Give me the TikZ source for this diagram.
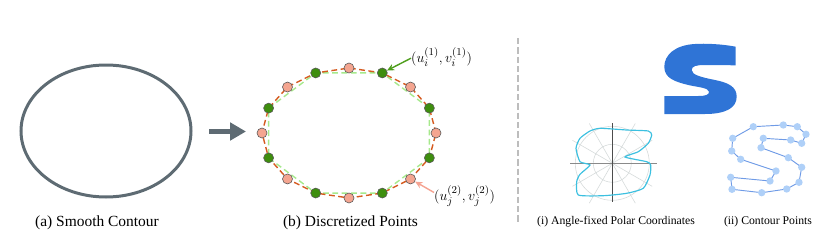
\documentclass[tikz,border=0pt]{standalone}
\usepackage{amsmath}
\usepackage{fontspec}
\setmainfont{Liberation Serif}
\usepackage{xcolor}
\usetikzlibrary{arrows.meta, positioning, calc}

\definecolor{contourgray}{HTML}{5E6B73}
\definecolor{pinkdot}{HTML}{F4A590}
\definecolor{greendot}{HTML}{3E8E0E}
\definecolor{orangedash}{HTML}{D55A1F}
\definecolor{lightgreen}{HTML}{A6E98C}
\definecolor{greenarrow}{HTML}{4E9E1C}
\definecolor{pinkarrow}{HTML}{F5A392}
\definecolor{sepgray}{HTML}{BDBDBD}
\definecolor{sblue}{HTML}{2F74D6}
\definecolor{polarcyan}{HTML}{3CC0E0}
\definecolor{gridgray}{HTML}{D5DADA}
\definecolor{axisgray}{HTML}{8A8A8A}
\definecolor{ptfill}{HTML}{AFD0F8}
\definecolor{ptline}{HTML}{6F9BE6}

\begin{document}
\begin{tikzpicture}[
    x=0.03cm, y=-0.03cm,
    captext/.style={font=\fontsize{13.2}{15}\selectfont, anchor=base},
    subcap/.style={font=\fontsize{10}{12}\selectfont, anchor=base},
    mathlab/.style={font=\fontsize{12.5}{14}\selectfont, anchor=west, inner sep=0pt},
    pdot/.style={circle, draw=black!65, line width=0.5pt, fill=pinkdot, minimum size=0.3cm, inner sep=0pt},
    gdot/.style={circle, draw=black!65, line width=0.5pt, fill=greendot, minimum size=0.3cm, inner sep=0pt},
    cpt/.style={circle, fill=ptfill, minimum size=0.22cm, inner sep=0pt},
    annot/.style={line width=1.2pt, -{Stealth[length=2.2mm, width=2mm]}},
    >=Stealth
]
\useasboundingbox (0,0) rectangle (830,252);

% (a) Smooth contour
\draw[contourgray, line width=0.09cm] (106,131) ellipse [x radius=85, y radius=66];
\coordinate (arrS) at (209,131.5);
\coordinate (arrE) at (246,131.5);
\draw[contourgray, line width=0.17cm, -{Triangle[length=0.48cm, width=0.52cm]}] (arrS) -- (arrE);
\node[captext] (capA) at (97,226) {(a) Smooth Contour};

% (b) Discretized points
\foreach \i in {0,...,7} {
  \coordinate (pk\i) at ({349+87*cos(45*\i)}, {133-65*sin(45*\i)});
  \coordinate (gr\i) at ({349+87*cos(45*\i+22.5)}, {133-65*sin(45*\i+22.5)});
}
\draw[lightgreen, line width=1.2pt, dash pattern=on 5pt off 3pt]
  (gr0) -- (gr1) -- (gr2) -- (gr3) -- (gr4) -- (gr5) -- (gr6) -- (gr7) -- cycle;
\draw[orangedash, line width=1.2pt, dash pattern=on 5pt off 3pt]
  (pk0) -- (gr0) -- (pk1) -- (gr1) -- (pk2) -- (gr2) -- (pk3) -- (gr3) --
  (pk4) -- (gr4) -- (pk5) -- (gr5) -- (pk6) -- (gr6) -- (pk7) -- (gr7) -- cycle;
\foreach \i in {0,...,7} {
  \node[pdot] (pd\i) at (pk\i) {};
  \node[gdot] (gd\i) at (gr\i) {};
}
\node[mathlab] (lab1) at (411,57) {$(u_i^{(1)},v_i^{(1)})$};
\node[mathlab] (lab2) at (434,196) {$(u_j^{(2)},v_j^{(2)})$};
\draw[annot, greenarrow] ([yshift=-1pt]lab1.west) -- (gd1);
\draw[annot, pinkarrow] ([yshift=3pt]lab2.west) -- (pd7);
\node[captext] (capB) at (350.5,226) {(b) Discretized Points};

% Separator
\coordinate (sepT) at (518,38);
\coordinate (sepB) at (518,223);
\draw[sepgray, line width=0.06cm, dash pattern=on 0.19cm off 0.09cm] (sepT) -- (sepB);

% Blue S
\fill[sblue] (735.7,46.7)
  .. controls (721.7,44) and (705,43.3) .. (695,44)
  .. controls (675,45) and (664.3,55) .. (664.3,66.7)
  .. controls (664.3,78.3) and (675,81.7) .. (688.3,85)
  .. controls (698.3,87.3) and (708.3,87.7) .. (709,91.7)
  .. controls (709.3,95) and (705,96) .. (698.3,96)
  -- (664.3,96) -- (664.3,114) -- (705,114)
  .. controls (725,114) and (736.7,108.3) .. (736.7,96.7)
  .. controls (736.7,86.7) and (728.3,82.7) .. (715,80)
  .. controls (701.7,77.3) and (691.7,75) .. (691.7,70)
  .. controls (691.7,66) and (696.7,65) .. (705,65)
  -- (735.7,65.3) -- cycle;

% (i) Angle-fixed polar coordinates
\coordinate (pc) at (612.3,163.3);
\foreach \a in {30,60,120,150,210,240,300,330}
  \draw[gridgray, line width=0.5pt] (pc) -- ++(\a:46);
\draw[gridgray, line width=0.5pt] (pc) circle [radius=19];
\draw[gridgray, line width=0.5pt] (pc) circle [radius=37];
\draw[axisgray, line width=1pt] ($(pc)+(-42,0)$) -- ($(pc)+(45,0)$);
\draw[black!70, line width=0.6pt] ($(pc)+(0,-40)$) -- ($(pc)+(0,39)$);
\draw[polarcyan, line width=1pt] plot[smooth cycle, tension=0.35] coordinates {
  (580,138.3) (590,131) (600,128.3) (626.7,130) (648.3,131) (651.7,135)
  (648.3,143.3) (638.3,151.7) (625,157) (646.7,161.7) (650.7,165)
  (650,175) (643.3,188.3) (626.7,193.3) (603.3,195.7) (578.3,195) (576.7,181.7)
  (580,174.3) (590,165) (580,161.7) (576,148.3)};
\node[subcap] (capI) at (616,224.5) {(i) Angle-fixed Polar Coordinates};

% (ii) Contour points
\foreach \n/\x/\y in {1/806/134.3, 2/797.3/126.7, 3/783.3/125, 4/753.3/126.7,
    5/732.7/138.3, 6/731.7/151, 7/740.7/159.3, 8/776/171, 9/770/181,
    10/730.7/177.3, 11/732/189.3, 12/761.7/192.7, 13/786.7/189, 14/799/182.3,
    15/801.7/167.3, 16/788.3/157.7, 17/761/147.7, 18/763.3/138.3,
    19/790.7/140, 20/801.7/143.3}
  \coordinate (q\n) at (\x,\y);
\draw[ptline, line width=0.8pt] (q1) \foreach \n in {2,...,20} { -- (q\n) } -- cycle;
\foreach \n in {1,...,20}
  \node[cpt] (cp\n) at (q\n) {};
\node[subcap] (capII) at (768,224.5) {(ii) Contour Points};

\end{tikzpicture}
\end{document}
